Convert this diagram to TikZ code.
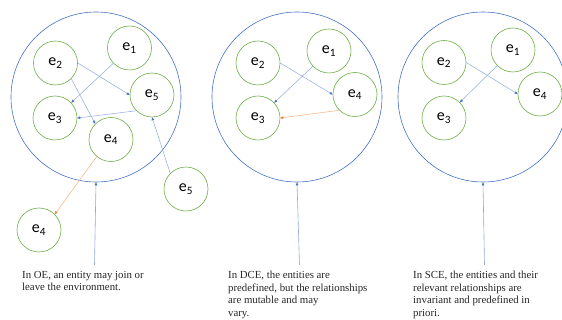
\documentclass[tikz,border=0pt]{standalone}
\usepackage{fontspec}
\setmainfont{Liberation Serif}
\newfontfamily\labfont{Carlito}
\usetikzlibrary{arrows.meta}
\definecolor{bigblue}{HTML}{4472C4}
\definecolor{entgreen}{HTML}{70AD47}
\definecolor{lnblue}{HTML}{8FAADC}
\definecolor{tipblue}{HTML}{4472C4}
\definecolor{lnorange}{HTML}{F4B183}
\definecolor{tiporange}{HTML}{ED7D31}
\definecolor{txtgray}{HTML}{262626}
\begin{document}
\begin{tikzpicture}[x=1pt,y=-1pt,
  env/.style={circle,draw=bigblue,line width=0.6pt,minimum size=170pt,inner sep=0pt},
  ent/.style={circle,draw=entgreen,line width=0.6pt,minimum size=44pt,inner sep=0pt,font=\labfont\fontsize{16}{16}\selectfont},
  rel/.style={draw=lnblue,line width=0.5pt,-{Triangle[length=3pt,width=2.6pt,fill=tipblue,color=tipblue]}},
  orel/.style={draw=lnorange,line width=0.5pt,-{Triangle[length=3pt,width=2.6pt,fill=tiporange,color=tiporange]}},
  ptr/.style={draw=lnblue,line width=0.6pt,-{Triangle[length=3pt,width=2.6pt,fill=tipblue,color=tipblue]}},
  captext/.style={anchor=north west,inner sep=0pt,align=left,text=txtgray,font=\fontsize{10.8}{12.6}\selectfont}
]
\useasboundingbox (0,0) rectangle (562,320);
% ---------- Panel 1 (OE)
\node[env] (big1) at (96,97) {};
\node[ent] (a1) at (129.5,48) {e\textsubscript{1}};
\node[ent] (a2) at (55.5,63) {e\textsubscript{2}};
\node[ent] (a3) at (55,118) {e\textsubscript{3}};
\node[ent] (a5) at (152,95) {e\textsubscript{5}};
\node[ent] (a4) at (111,139.5) {e\textsubscript{4}};
\node[ent] (oa5) at (186,189) {e\textsubscript{5}};
\node[ent] (oa4) at (39,230) {e\textsubscript{4}};
\draw[rel] (a2.east) -- (a5.west);
\draw[rel] (a2.south east) -- (a4.north west);
\draw[rel] (a1) -- (a3);
\draw[rel] (a5.south west) -- (a3.east);
\draw[orel] (a4.230) -- (oa4.north east);
\draw[rel] (oa5.north west) -- (a5.south);
\coordinate (p1) at (94.5,265);
\draw[ptr] (p1) -- (big1.south);
\node[captext] (t1) at (22,271) {In OE, an entity may join or\\leave the environment.};
% ---------- Panel 2 (DCE)
\node[env] (big2) at (297,97) {};
\node[ent] (b1) at (329,51) {e\textsubscript{1}};
\node[ent] (b2) at (258,63) {e\textsubscript{2}};
\node[ent] (b3) at (258,118) {e\textsubscript{3}};
\node[ent] (b4) at (355,94.5) {e\textsubscript{4}};
\draw[rel] (b2.east) -- (b4.west);
\draw[rel] (b1) -- (b3);
\draw[orel] (b4.south west) -- (b3.east);
\coordinate (p2) at (299.5,265);
\draw[ptr] (p2) -- (big2.south);
\node[captext] (t2) at (228,271) {In DCE, the entities are\\predefined, but the relationships\\are mutable and may\\vary.};
% ---------- Panel 3 (SCE)
\node[env] (big3) at (483,97) {};
\node[ent] (c1) at (513,50) {e\textsubscript{1}};
\node[ent] (c2) at (444,62.5) {e\textsubscript{2}};
\node[ent] (c3) at (444,118) {e\textsubscript{3}};
\node[ent] (c4) at (540,94) {e\textsubscript{4}};
\draw[rel] (c2.east) -- (c4.west);
\draw[rel] (c1) -- (c3);
\coordinate (p3) at (484.5,265);
\draw[ptr] (p3) -- (big3.south);
\node[captext] (t3) at (413,271) {In SCE, the entities and their\\relevant relationships are\\invariant and predefined in\\priori.};
\end{tikzpicture}
\end{document}
